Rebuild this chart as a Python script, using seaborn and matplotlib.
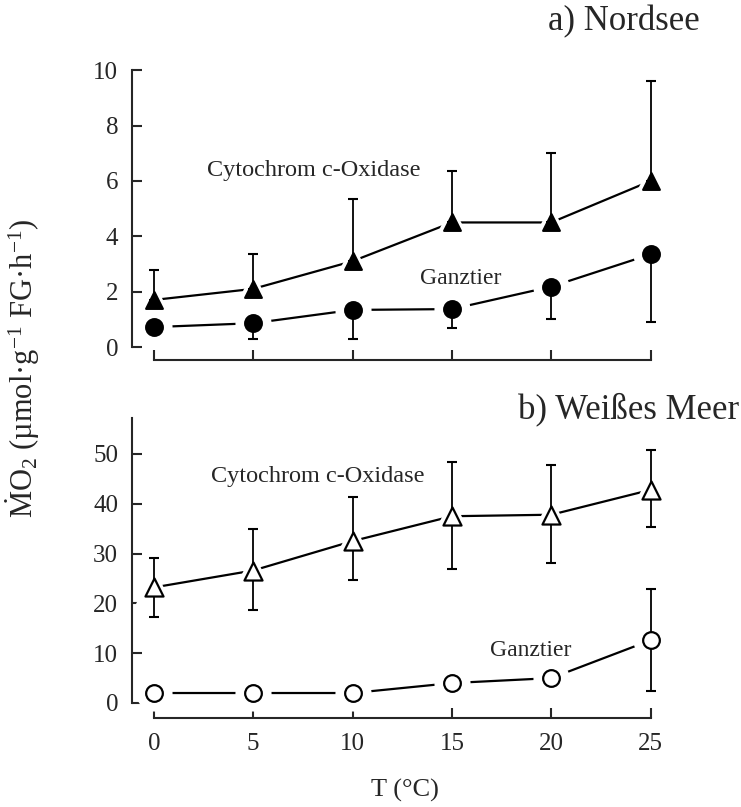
import numpy as np
import pandas as pd
import seaborn as sns
import matplotlib.pyplot as plt

temps = [0, 5, 10, 15, 20, 25]

# a) Nordsee
ns_cox = [1.7, 2.1, 3.1, 4.5, 4.5, 6.0]
ns_cox_lo = [1.7, 2.1, 3.1, 4.5, 4.5, 6.0]
ns_cox_hi = [2.8, 3.35, 5.35, 6.37, 7.0, 9.6]
ns_whole = [0.72, 0.86, 1.34, 1.37, 2.18, 3.35]
ns_whole_lo = [0.5, 0.3, 0.3, 0.67, 1.0, 0.89]
ns_whole_hi = [0.72, 0.86, 1.34, 1.37, 2.18, 3.35]

# b) Weisses Meer
ws_cox = [23.2, 26.6, 32.5, 37.5, 37.8, 42.8]
ws_cox_lo = [17.3, 18.6, 24.6, 27.0, 28.1, 35.3]
ws_cox_hi = [29.2, 34.9, 41.4, 48.3, 47.7, 50.8]
ws_whole = [2.0, 2.0, 2.0, 4.0, 5.0, 12.6]
ws_whole_lo = [2.0, 2.0, 2.0, 4.0, 5.0, 2.5]
ws_whole_hi = [2.0, 2.0, 2.0, 4.0, 5.0, 22.8]

sns.set_style("ticks")
plt.rcParams['font.family'] = ['Liberation Serif', 'DejaVu Serif']
plt.rcParams['mathtext.fontset'] = 'custom'
plt.rcParams['mathtext.rm'] = 'Liberation Serif'
plt.rcParams['mathtext.it'] = 'Liberation Serif:italic'


def draw_series(ax, y, lo, hi, marker, msize, filled):
    df = pd.DataFrame({'T': temps, 'v': y})
    y = np.array(y)
    err = [y - np.array(lo), np.array(hi) - y]
    n_before = len(ax.lines)
    sns.lineplot(data=df, x='T', y='v', ax=ax, color='black', lw=1.6,
                 sort=False)
    for ln in ax.lines[n_before:]:
        ln.set_zorder(1)
    # white halo gives the small gap between line and marker
    halo, = ax.plot(temps, y, ls='none', marker=marker, ms=msize + 14,
                    mfc='white', mec='white', mew=0, clip_on=False)
    halo.set_zorder(2.5)
    ax.errorbar(temps, y, yerr=err, fmt='none', ecolor='black',
                elinewidth=1.3, capsize=3.8, capthick=1.5, zorder=3,
                clip_on=False)
    sns.scatterplot(data=df, x='T', y='v', ax=ax, marker=marker,
                    s=msize ** 2, color='black' if filled else 'white',
                    edgecolor='black', linewidth=1.6, zorder=4, clip_on=False)


fig = plt.figure(figsize=(7.41, 8.07), dpi=100)
ax1 = fig.add_axes([0.178, 0.570, 0.727, 0.343])
ax2 = fig.add_axes([0.178, 0.1289, 0.727, 0.353])

draw_series(ax1, ns_cox, ns_cox_lo, ns_cox_hi, '^', 12, True)
draw_series(ax1, ns_whole, ns_whole_lo, ns_whole_hi, 'o', 12, True)
draw_series(ax2, ws_cox, ws_cox_lo, ws_cox_hi, '^', 13, False)
draw_series(ax2, ws_whole, ws_whole_lo, ws_whole_hi, 'o', 12, False)

for ax, ymax, off in [(ax1, 10, 13), (ax2, 57.2, 15)]:
    ax.set_xlim(-1.1, 26)
    ax.set_ylim(0, ymax)
    ax.set_xticks(temps)
    ax.set_xlabel('')
    ax.set_ylabel('')
    sns.despine(ax=ax)
    ax.spines['bottom'].set_position(('outward', off * 0.72))
    ax.spines['bottom'].set_bounds(0, 25)
    for s in ['left', 'bottom']:
        ax.spines[s].set_linewidth(1.5)
    ax.tick_params(direction='in', length=7, width=1.5, labelsize=18)
    ax.tick_params(axis='y', pad=10)
    ax.tick_params(axis='x', pad=11)

ax1.set_yticks([0, 2, 4, 6, 8, 10])
ax1.spines['left'].set_bounds(0, 10)
ax1.set_xticklabels([])
ax2.set_yticks([0, 10, 20, 30, 40, 50])

ax1.text(2.66, 6.39, 'Cytochrom c-Oxidase', fontsize=17.5, va='center')
ax1.text(13.4, 2.49, 'Ganztier', fontsize=17, va='center')
ax2.text(2.86, 45.4, 'Cytochrom c-Oxidase', fontsize=17.5, va='center')
ax2.text(16.9, 10.6, 'Ganztier', fontsize=17, va='center')

fig.text(700 / 741, 1 - 22 / 807, 'a) Nordsee', fontsize=25,
         ha='right', va='center')
fig.text(739 / 741, 1 - 409 / 807, 'b) Weißes Meer', fontsize=25,
         ha='right', va='center')
fig.text(23 / 741, 1 - 368 / 807,
         r'$\dot{\mathrm{M}}\mathrm{O}_2$ (µmol·g$^{-1}$ FG·h$^{-1}$)',
         fontsize=22, rotation=90, ha='center', va='center')
fig.text(405 / 741, 1 - 790 / 807, 'T (°C)', fontsize=19,
         ha='center', va='center')

fig.savefig('out.png', dpi=100)
